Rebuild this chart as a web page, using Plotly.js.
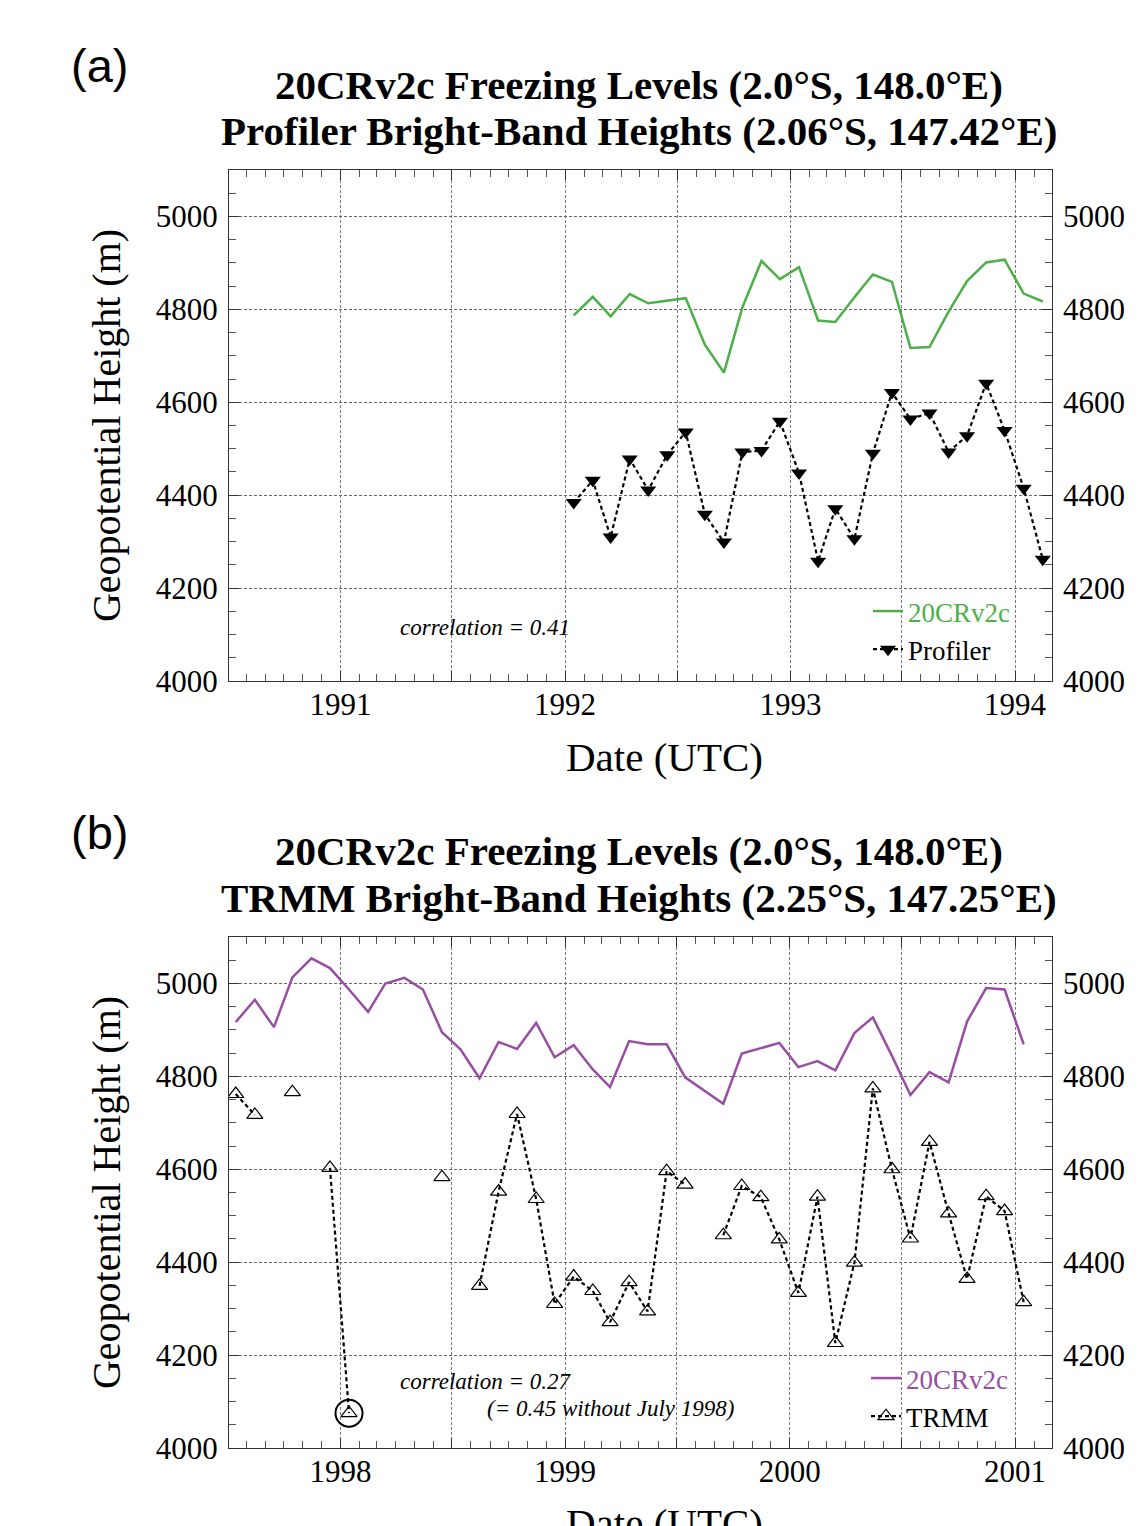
<!DOCTYPE html>
<html>
<head>
<meta charset="utf-8">
<script src="https://cdn.plot.ly/plotly-3.0.1.min.js"></script>
<style>html,body{margin:0;padding:0;background:#fff;}#chart{width:1144px;height:1526px;}</style>
</head>
<body>
<div id="chart"></div>
<script>
// ---------- Data ----------
// Panel (a): monthly values, Jan 1992 .. Feb 1994
const startA = [1992, 1];
const reanalysisA = [4787, 4827, 4785, 4833, 4813, 4819, 4824, 4724, 4664, 4804, 4904, 4865,
                     4891, 4776, 4773, 4826, 4875, 4859, 4717, 4719, 4795, 4861, 4901, 4907,
                     4834, 4817];
const profilerA   = [4384, 4432, 4310, 4478, 4411, 4487, 4536, 4359, 4299, 4493, 4496, 4559,
                     4448, 4258, 4371, 4306, 4490, 4621, 4564, 4577, 4493, 4528, 4641, 4539,
                     4415, 4262];
// Panel (b): monthly values, Jul 1997 .. Jan 2001 (null = no TRMM estimate)
const startB = [1997, 7];
const reanalysisB = [4917, 4965, 4906, 5013, 5054, 5033,
                     4987, 4939, 5000, 5012, 4987, 4895, 4858, 4796, 4874, 4859, 4915, 4841,
                     4867, 4815, 4777, 4876, 4869, 4869, 4798, 4770, 4741, 4849, 4860, 4872,
                     4820, 4833, 4813, 4893, 4927, 4844, 4760, 4809, 4787, 4918, 4990, 4987,
                     4869];
const trmmB = [4762, 4717, null, 4766, null, 4603,
               4075, null, null, null, null, 4583, null, 4349, 4552, 4719, 4536, 4310,
               4369, 4338, 4271, 4357, 4294, 4596, 4567, null, 4458, 4564, 4540, 4449,
               4334, 4541, 4226, 4399, 4774, 4600, 4451, 4659, 4505, 4364, 4542, 4510,
               4314];
const outlierMonthB = '1998-01';

// Axis ticks
const tickValsA = ['1991-01-01','1991-07-01','1992-01-01','1992-07-01','1993-01-01','1993-07-01','1994-01-01'];
const tickTextA = ['1991','','1992','','1993','','1994'];
const tickValsB = ['1998-01-01','1998-07-01','1999-01-01','1999-07-01','2000-01-01','2000-07-01','2001-01-01'];
const tickTextB = ['1998','','1999','','2000','','2001'];
const rangeA = ['1990-07-04','1994-03-02'];
const rangeB = ['1997-07-04','2001-03-02'];
const yRange = [4000, 5100];

// ---------- Helpers ----------
function monthSeries(start, n) {
  const out = [];
  for (let i = 0; i < n; i++) {
    const mm = start[1] - 1 + i;
    const yy = start[0] + Math.floor(mm / 12);
    const mo = (mm % 12) + 1;
    out.push(yy + '-' + String(mo).padStart(2, '0') + '-15');
  }
  return out;
}
const monthsA = monthSeries(startA, reanalysisA.length);
const monthsB = monthSeries(startB, reanalysisB.length);
const outIdx = monthsB.findIndex(d => d.startsWith(outlierMonthB));

const GREEN = '#4daf4a', PURPLE = '#984ea3';
const SERIF = 'Liberation Serif, Times New Roman, serif';
const SANS = 'Liberation Sans, Arial, sans-serif';
const W = 1144, H = 1526;
const px = x => x / W, py = y => 1 - y / H;

const traces = [
  { x: monthsA, y: reanalysisA, xaxis: 'x', yaxis: 'y3', type: 'scatter', mode: 'lines',
    name: '<span style="color:' + GREEN + '">20CRv2c</span>', legend: 'legend',
    line: { color: GREEN, width: 2.5 } },
  { x: monthsA, y: profilerA, xaxis: 'x', yaxis: 'y', type: 'scatter', mode: 'lines+markers',
    name: 'Profiler', legend: 'legend',
    line: { color: '#000', width: 2.2, dash: '4px,3px' },
    marker: { symbol: 'triangle-down', size: 14, color: '#000' } },
  { x: monthsB, y: reanalysisB, xaxis: 'x2', yaxis: 'y4', type: 'scatter', mode: 'lines',
    name: '<span style="color:' + PURPLE + '">20CRv2c</span>', legend: 'legend2',
    line: { color: PURPLE, width: 2.5 } },
  { x: monthsB, y: trmmB, xaxis: 'x2', yaxis: 'y2', type: 'scatter', mode: 'lines+markers',
    name: 'TRMM', legend: 'legend2', connectgaps: false,
    line: { color: '#000', width: 2.2, dash: '4px,3px' },
    marker: { symbol: 'triangle-up-open', size: 14, color: '#000', line: { color: '#000', width: 1.2 } } },
  { x: [monthsB[outIdx]], y: [trmmB[outIdx]], xaxis: 'x2', yaxis: 'y2', type: 'scatter', mode: 'markers',
    showlegend: false, hoverinfo: 'skip',
    marker: { symbol: 'circle-open', size: 27, color: '#000', line: { color: '#000', width: 2 } } }
];

const xDomain = [px(229), px(1052)];
const domA = [py(681), py(170)];
const domB = [py(1448), py(937)];

function xAxis(range, tv, tt, anchor) {
  return {
    type: 'date', range: range, domain: xDomain, anchor: anchor,
    tickmode: 'array', tickvals: tv, ticktext: tt,
    ticks: 'inside', ticklen: 10, tickwidth: 1, tickcolor: '#333',
    minor: { dtick: 'M1', tick0: '1990-01-01', ticks: 'inside', ticklen: 7, tickcolor: '#555', showgrid: false },
    showgrid: true, gridcolor: '#7a7a7a', gridwidth: 1, griddash: '3px,2px',
    showline: true, linecolor: '#333', linewidth: 1, mirror: 'ticks',
    tickfont: { family: SERIF, size: 31, color: '#000' }, ticklabelstandoff: -4,
    zeroline: false
  };
}
function yLeft(domain, anchor) {
  return {
    range: yRange, domain: domain, anchor: anchor, dtick: 200, tick0: 4000,
    ticks: 'inside', ticklen: 10, tickcolor: '#333',
    minor: { dtick: 50, ticks: 'inside', ticklen: 7, tickcolor: '#555', showgrid: false },
    showgrid: true, gridcolor: '#666', gridwidth: 1, griddash: '3px,2px',
    showline: true, linecolor: '#333', linewidth: 1, mirror: true,
    tickfont: { family: SERIF, size: 31, color: '#000' }, ticklabelstandoff: 4,
    title: { text: 'Geopotential Height (m)', font: { family: SERIF, size: 40, color: '#000' }, standoff: 22 },
    zeroline: false
  };
}
function yRight(over, anchor) {
  return {
    range: yRange, overlaying: over, side: 'right', anchor: anchor, dtick: 200, tick0: 4000,
    ticks: 'inside', ticklen: 10, tickcolor: '#333',
    minor: { dtick: 50, ticks: 'inside', ticklen: 7, tickcolor: '#555', showgrid: false },
    showgrid: false, showline: false, zeroline: false,
    tickfont: { family: SERIF, size: 31, color: '#000' }, ticklabelstandoff: 10
  };
}

const legendBase = {
  xanchor: 'left', yanchor: 'top', bgcolor: 'rgba(0,0,0,0)', borderwidth: 0,
  font: { family: SERIF, size: 27, color: '#000' }, tracegroupgap: 0, itemwidth: 30
};

const annFont = (size, extra) => Object.assign({ family: SERIF, size: size, color: '#000' }, extra || {});
function ann(text, x, y, font) {
  return { text: text, x: px(x), y: py(y), xref: 'paper', yref: 'paper', showarrow: false,
           xanchor: 'center', yanchor: 'middle', font: font };
}
const annotations = [
  ann('(a)', 99, 65, { family: SANS, size: 47, color: '#000' }),
  ann('<b>20CRv2c Freezing Levels (2.0°S, 148.0°E)</b>', 639, 85, annFont(41)),
  ann('<b>Profiler Bright-Band Heights (2.06°S, 147.42°E)</b>', 639, 131, annFont(41)),
  ann('<i>correlation = 0.41</i>', 485, 628, annFont(23)),
  ann('Date (UTC)', 664, 757, annFont(41)),
  ann('(b)', 99, 832, { family: SANS, size: 47, color: '#000' }),
  ann('<b>20CRv2c Freezing Levels (2.0°S, 148.0°E)</b>', 639, 851, annFont(41)),
  ann('<b>TRMM Bright-Band Heights (2.25°S, 147.25°E)</b>', 639, 898, annFont(41)),
  ann('<i>correlation = 0.27</i>', 485, 1381, annFont(23)),
  ann('<i>(= 0.45 without July 1998)</i>', 610, 1408, annFont(23)),
  ann('Date (UTC)', 664, 1523, annFont(41))
];

const layout = {
  width: W, height: H,
  margin: { l: 0, r: 0, t: 0, b: 0 },
  paper_bgcolor: '#fff', plot_bgcolor: '#fff',
  showlegend: true,
  xaxis: xAxis(rangeA, tickValsA, tickTextA, 'y'),
  yaxis: yLeft(domA, 'x'),
  yaxis3: yRight('y', 'x'),
  xaxis2: xAxis(rangeB, tickValsB, tickTextB, 'y2'),
  yaxis2: yLeft(domB, 'x2'),
  yaxis4: yRight('y2', 'x2'),
  legend: Object.assign({}, legendBase, { x: px(868), y: py(587) }),
  legend2: Object.assign({}, legendBase, { x: px(866), y: py(1354) }),
  annotations: annotations
};

Plotly.newPlot('chart', traces, layout, { displayModeBar: false, staticPlot: true });
</script>
</body>
</html>
